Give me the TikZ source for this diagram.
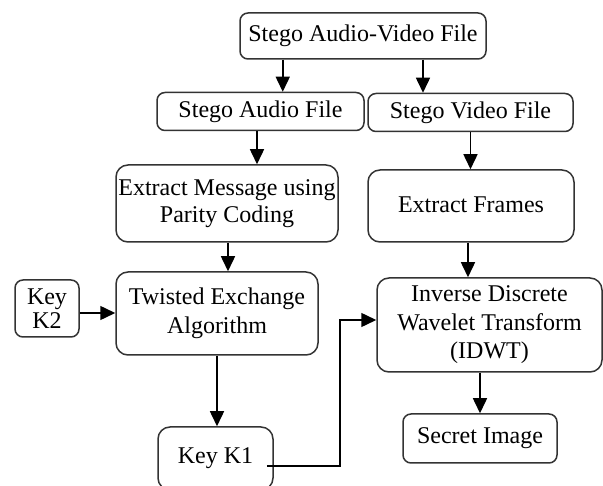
\documentclass[tikz,border=0pt]{standalone}
\usepackage{fontspec}
\setmainfont{Liberation Serif}
\usetikzlibrary{arrows.meta}
\begin{document}
\begin{tikzpicture}[x=1pt,y=-1pt,
  box/.style={draw=black!80, line width=1.5pt, rounded corners=8pt, inner sep=0pt, align=center,
    font=\fontsize{24}{28.5}\selectfont},
  bigbox/.style={box, rounded corners=12pt},
  arr/.style={draw=black, line width=1.5pt, -{Triangle[length=15pt,width=14pt]}}]
\useasboundingbox (0,0) rectangle (603,486);
\node[box, minimum width=246pt, minimum height=46pt] (top) at (363,36) {Stego Audio-Video File};
\node[box, minimum width=207pt, minimum height=38pt] (sa) at (260.5,111.5) {Stego Audio File};
\node[box, minimum width=205pt, minimum height=38pt] (sv) at (470.5,112.5) {Stego Video File};
\node[bigbox, minimum width=222pt, minimum height=77pt] (em) at (227,203.5) {\raisebox{-4pt}{\begin{tabular}{@{}c@{}}Extract Message using\\[-2pt]Parity Coding\end{tabular}}};
\node[bigbox, minimum width=206pt, minimum height=72pt] (ef) at (471,206) {\raisebox{2pt}{Extract Frames}};
\node[bigbox, minimum width=202pt, minimum height=83pt] (tw) at (217,313.5) {Twisted Exchange\\Algorithm};
\node[box, minimum width=64pt, minimum height=57pt] (k2) at (47,308.5) {Key\\[-4pt]K2};
\node[bigbox, minimum width=225pt, minimum height=94pt] (idwt) at (489.5,325) {Inverse Discrete\\[0pt]Wavelet Transform\\[0pt](IDWT)};
\node[bigbox, minimum width=115pt, minimum height=63pt] (k1) at (215.5,458.5) {Key K1};
\node[box, minimum width=154pt, minimum height=49pt] (si) at (480,438.5) {\raisebox{1pt}{Secret Image}};

\draw[arr] (top.south -| sa.north east) ++(-82,0) coordinate (t1) -- (t1 |- sa.north);
\draw[arr] (top.south) ++(60,0) coordinate (t2) -- (t2 |- sv.north);
\draw[arr] (sa.south) ++(-3.5,0) coordinate (s1) -- (s1 |- em.north);
\draw[arr] (sv.south) coordinate (s2) -- (s2 |- ef.north);
\draw[arr] (em.south) ++(1,0) coordinate (e1) -- (e1 |- tw.north);
\draw[arr] (k2.east) ++(0,4.5) coordinate (k2o) -- (k2o -| tw.west);
\draw[arr] (tw.south) coordinate (w1) -- (w1 |- k1.north);
\draw[arr] (ef.south) ++(-3,0) coordinate (f1) -- (f1 |- idwt.north);
\draw[arr] (idwt.south) ++(-9.5,0) coordinate (i1) -- (i1 |- si.north);
\draw[arr] ([xshift=-7pt,yshift=-7.5pt]k1.east) -- ++(73,0) |- ([yshift=5pt]idwt.west);
\end{tikzpicture}
\end{document}
